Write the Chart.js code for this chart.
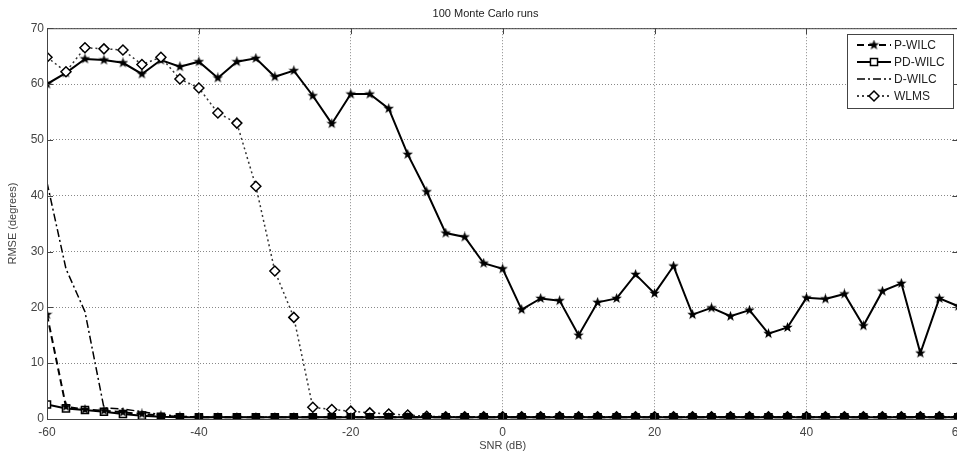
<!DOCTYPE html>
<html>
<head>
<meta charset="utf-8">
<script src="https://cdn.jsdelivr.net/npm/chart.js@4.4.1/dist/chart.umd.min.js"></script>
<style>
  body { margin: 0; background: #fff; overflow: hidden; }
  #wrap { width: 971px; height: 453px; }
</style>
</head>
<body>
<div id="wrap"><canvas id="rmseChart" width="971" height="453"></canvas></div>
<script>
// SNR grid (dB), one point every 2.5 dB
const snr = [-60, -57.5, -55, -52.5, -50, -47.5, -45, -42.5, -40, -37.5, -35, -32.5, -30, -27.5, -25, -22.5,
  -20, -17.5, -15, -12.5, -10, -7.5, -5, -2.5, 0, 2.5, 5, 7.5, 10, 12.5, 15, 17.5, 20, 22.5, 25, 27.5,
  30, 32.5, 35, 37.5, 40, 42.5, 45, 47.5, 50, 52.5, 55, 57.5, 60];

const pWilc = [18.7, 2.2, 1.7, 1.5, 1.2, 0.9, 0.6, 0.4, 0.3, 0.3, 0.3, 0.3, 0.3, 0.3, 0.3, 0.3,
  0.3, 0.3, 0.3, 0.3, 0.3, 0.3, 0.3, 0.3, 0.3, 0.3, 0.3, 0.3, 0.3, 0.3, 0.3, 0.3, 0.3, 0.3, 0.3, 0.3,
  0.3, 0.3, 0.3, 0.3, 0.3, 0.3, 0.3, 0.3, 0.3, 0.3, 0.3, 0.3, 0.3];

const pdWilc = [2.6, 1.9, 1.6, 1.3, 0.9, 0.6, 0.4, 0.3, 0.3, 0.3, 0.3, 0.3, 0.3, 0.3, 0.3, 0.3,
  0.3, 0.3, 0.3, 0.3, 0.3, 0.3, 0.3, 0.3, 0.3, 0.3, 0.3, 0.3, 0.3, 0.3, 0.3, 0.3, 0.3, 0.3, 0.3, 0.3,
  0.3, 0.3, 0.3, 0.3, 0.3, 0.3, 0.3, 0.3, 0.3, 0.3, 0.3, 0.3, 0.3];

const dWilc = [42.4, 26.9, 19.2, 2.0, 1.8, 1.3, 0.8, 0.5, 0.3, 0.3, 0.3, 0.3, 0.3, 0.3, 0.3, 0.3,
  0.3, 0.3, 0.3, 0.3, 0.3, 0.3, 0.3, 0.3, 0.3, 0.3, 0.3, 0.3, 0.3, 0.3, 0.3, 0.3, 0.3, 0.3, 0.3, 0.3,
  0.3, 0.3, 0.3, 0.3, 0.3, 0.3, 0.3, 0.3, 0.3, 0.3, 0.3, 0.3, 0.3];

const wlms = [64.8, 62.2, 66.5, 66.3, 66.1, 63.5, 64.8, 60.9, 59.3, 54.8, 53.0, 41.7, 26.5, 18.2, 2.1, 1.7,
  1.4, 1.1, 0.9, 0.7, 0.5, 0.4, 0.4, 0.4, 0.4, 0.4, 0.4, 0.4, 0.4, 0.4, 0.4, 0.4, 0.4, 0.4, 0.4, 0.4,
  0.4, 0.4, 0.4, 0.4, 0.4, 0.4, 0.4, 0.4, 0.4, 0.4, 0.4, 0.4, 0.4];

// solid curve with star markers (not in the legend)
const other = [60.0, 62.0, 64.5, 64.3, 63.8, 61.8, 64.3, 63.1, 64.0, 61.1, 64.0, 64.6, 61.3, 62.4, 57.9, 52.9,
  58.2, 58.2, 55.6, 47.4, 40.7, 33.3, 32.6, 27.9, 26.9, 19.6, 21.6, 21.2, 15.0, 20.9, 21.6, 25.9, 22.5, 27.4,
  18.7, 19.9, 18.4, 19.5, 15.3, 16.4, 21.7, 21.5, 22.4, 16.7, 22.9, 24.3, 11.8, 21.6, 20.2];

const xTicks = [-60, -40, -20, 0, 20, 40, 60];
const yTicks = [0, 10, 20, 30, 40, 50, 60, 70];

const FONT = '"Liberation Sans", Arial, sans-serif';

// filled pentagram marker
function makeStar(size) {
    const c = document.createElement('canvas');
    c.width = size; c.height = size;
    const g = c.getContext('2d');
    const r = size / 2, ri = r * 0.42;
    g.beginPath();
    for (let i = 0; i < 10; i++) {
        const a = -Math.PI / 2 + i * Math.PI / 5;
        const rr = i % 2 ? ri : r;
        g.lineTo(r + rr * Math.cos(a), r + rr * Math.sin(a));
    }
    g.closePath();
    g.fillStyle = '#000';
    g.fill();
    return c;
}
const star = makeStar(11);

const toPts = arr => arr.map((v, i) => ({ x: snr[i], y: v }));

const frame = {
    id: 'frame',
    afterDraw(chart) {
        const { ctx, chartArea: a, scales } = chart;
        ctx.save();
        ctx.strokeStyle = '#444';
        ctx.lineWidth = 1;
        ctx.strokeRect(a.left + 0.5, a.top + 0.5, a.right - a.left, a.bottom - a.top);
        ctx.beginPath();
        xTicks.forEach(t => {
            const px = Math.round(scales.x.getPixelForValue(t)) + 0.5;
            ctx.moveTo(px, a.bottom); ctx.lineTo(px, a.bottom - 6);
            ctx.moveTo(px, a.top); ctx.lineTo(px, a.top + 6);
        });
        yTicks.forEach(t => {
            const py = Math.round(scales.y.getPixelForValue(t)) + 0.5;
            ctx.moveTo(a.left, py); ctx.lineTo(a.left + 6, py);
            ctx.moveTo(a.right, py); ctx.lineTo(a.right - 6, py);
        });
        ctx.stroke();

        // legend box
        const bx = 847, by = 34, bw = 106, bh = 74;
        ctx.fillStyle = '#fff';
        ctx.fillRect(bx, by, bw, bh);
        ctx.strokeRect(bx + 0.5, by + 0.5, bw, bh);
        ctx.font = '12px ' + FONT;
        ctx.textBaseline = 'middle';
        chart.data.datasets.slice(0, 4).forEach((ds, i) => {
            const y = by + 11 + i * 17;
            ctx.strokeStyle = '#000';
            ctx.lineWidth = ds.borderWidth;
            ctx.setLineDash(ds.borderDash || []);
            ctx.beginPath();
            ctx.moveTo(bx + 10, y); ctx.lineTo(bx + 44, y);
            ctx.stroke();
            ctx.setLineDash([]);
            if (ds.pointRadius > 0) {
                ctx.fillStyle = ds.legendFill;
                ctx.strokeStyle = '#000';
                ctx.lineWidth = 1.5;
                Chart.helpers.drawPoint(ctx, {
                    pointStyle: ds.pointStyle, radius: ds.pointRadius, rotation: 0, borderWidth: 1.5
                }, bx + 27, y);
            }
            ctx.fillStyle = '#222';
            ctx.fillText(ds.label, bx + 47, y + 1);
        });
        ctx.restore();
    }
};

const ctx = document.getElementById('rmseChart').getContext('2d');
const rmseChart = new Chart(ctx, {
    type: 'line',
    data: {
        datasets: [
            { label: 'P-WILC', data: toPts(pWilc), borderColor: '#000', borderWidth: 2, borderDash: [7, 4],
              pointStyle: star, pointRadius: 5, pointBackgroundColor: '#000', pointBorderColor: '#000', legendFill: '#000' },
            { label: 'PD-WILC', data: toPts(pdWilc), borderColor: '#000', borderWidth: 2,
              pointStyle: 'rect', pointRadius: 5, pointBorderColor: '#000', pointBorderWidth: 1.5, legendFill: '#fff',
              // low markers overlap the others and read as solid black
              pointBackgroundColor: c => (c.raw && c.raw.y < 0.5 ? '#000' : '#fff') },
            { label: 'D-WILC', data: toPts(dWilc), borderColor: '#000', borderWidth: 1.5, borderDash: [8, 3, 2, 3],
              pointRadius: 0 },
            { label: 'WLMS', data: toPts(wlms), borderColor: '#333', borderWidth: 1.5, borderDash: [2, 3],
              pointStyle: 'rectRot', pointRadius: 5, pointBackgroundColor: '#fff', pointBorderColor: '#000',
              pointBorderWidth: 1.5, legendFill: '#fff' },
            { label: 'other', data: toPts(other), borderColor: '#000', borderWidth: 2,
              pointStyle: star, pointRadius: 5, pointBackgroundColor: '#000', pointBorderColor: '#000' }
        ]
    },
    options: {
        responsive: false,
        animation: false,
        layout: { padding: 0 },
        plugins: {
            legend: { display: false },
            tooltip: { enabled: false },
            title: {
                display: true,
                text: '100 Monte Carlo runs',
                color: '#222',
                font: { family: FONT, size: 11, weight: 'normal' },
                padding: { top: 7, bottom: 8 }
            }
        },
        scales: {
            x: {
                type: 'linear', min: -60, max: 60,
                afterBuildTicks: s => { s.ticks = xTicks.map(v => ({ value: v })); },
                afterFit: s => { s.height = 34; },
                ticks: { color: '#444', padding: 6, font: { family: FONT, size: 12 } },
                grid: { color: '#888', drawTicks: false },
                border: { display: false, dash: [1, 2] },
                title: { display: true, text: 'SNR (dB)', color: '#444', padding: 0,
                         font: { family: FONT, size: 11 } }
            },
            y: {
                min: 0, max: 70,
                afterBuildTicks: s => { s.ticks = yTicks.map(v => ({ value: v })); },
                afterFit: s => { s.width = 47; },
                ticks: { color: '#444', padding: 3, font: { family: FONT, size: 12 } },
                grid: { color: '#888', drawTicks: false },
                border: { display: false, dash: [1, 2] },
                title: { display: true, text: 'RMSE (degrees)', color: '#444', padding: { top: 6, bottom: 0 },
                         font: { family: FONT, size: 11 } }
            }
        }
    },
    plugins: [frame]
});
</script>
</body>
</html>
